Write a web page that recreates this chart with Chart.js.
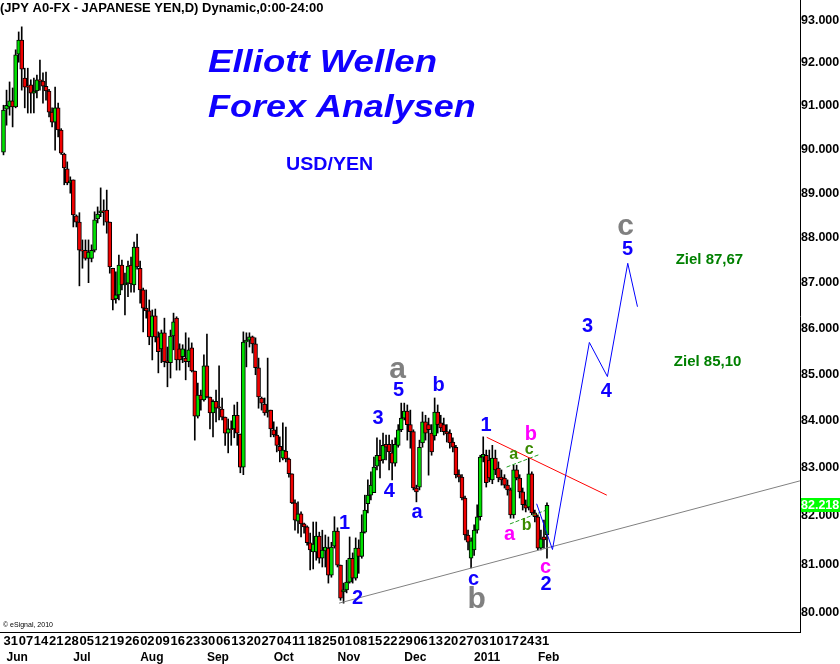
<!DOCTYPE html>
<html>
<head>
<meta charset="utf-8">
<script src="https://cdn.jsdelivr.net/npm/chart.js@4/dist/chart.umd.min.js"></script>
<style>
  html, body { margin: 0; padding: 0; background: #fff; }
  canvas { display: block; }
</style>
</head>
<body>
<canvas id="chart" width="840" height="664"></canvas>
<script>
// USD/JPY daily candles, one entry per weekday from 31 May 2010 to 4 Feb 2011
const opens = [
  89.93, 90.92, 90.97, 91.11, 90.97, 92.20, 92.53, 91.64, 91.45, 91.48,
  91.29, 91.34, 91.60, 91.57, 91.45, 91.34, 90.85, 90.62, 90.95, 90.44,
  89.89, 89.55, 89.23, 89.30, 88.49, 88.35, 87.72, 87.72, 87.54, 87.54,
  87.72, 88.42, 88.56, 88.60, 88.62, 88.35, 87.32, 86.64, 86.73, 87.39,
  86.95, 86.99, 87.39, 86.95, 87.79, 87.32, 86.84, 86.44, 86.38, 85.81,
  86.27, 85.81, 85.55, 85.90, 85.29, 85.25, 85.83, 86.22, 85.55, 85.38,
  85.35, 85.27, 85.57, 85.07, 84.10, 84.55, 84.45, 85.18, 84.51, 84.17,
  84.42, 84.30, 84.25, 84.08, 83.74, 83.83, 83.83, 84.12, 83.72, 83.02,
  85.70, 85.74, 85.81, 85.66, 85.14, 84.49, 84.36, 84.19, 84.23, 83.81,
  83.70, 83.46, 83.21, 83.36, 83.19, 82.88, 82.27, 81.89, 82.04, 81.83,
  81.77, 81.44, 81.25, 81.25, 81.58, 81.12, 81.27, 81.33, 80.77, 81.37,
  81.68, 80.98, 80.43, 80.47, 80.63, 81.12, 80.71, 81.33, 81.16, 81.66,
  82.25, 82.43, 82.48, 83.04, 83.27, 83.17, 83.50, 83.50, 83.32, 83.10,
  83.48, 83.81, 84.06, 84.21, 83.92, 83.77, 82.58, 82.60, 83.53, 83.98,
  83.92, 83.74, 83.68, 84.19, 83.96, 83.92, 83.77, 83.74, 83.55, 83.44,
  82.86, 82.81, 82.37, 81.60, 81.12, 81.29, 81.70, 81.98, 83.23, 83.27,
  83.17, 82.75, 83.21, 83.00, 82.81, 82.79, 82.64, 82.54, 82.02, 82.96,
  82.79, 82.50, 82.23, 82.18, 82.88, 82.06, 81.98, 81.33, 81.56, 81.60
];
const highs = [
  91.01, 91.36, 91.55, 91.41, 92.30, 92.72, 92.84, 91.87, 91.87, 91.60,
  91.64, 91.71, 92.06, 91.76, 91.78, 91.38, 90.95, 91.43, 91.06, 90.47,
  89.91, 89.71, 89.37, 89.30, 88.51, 88.56, 87.95, 87.95, 87.95, 87.84,
  88.58, 88.69, 89.12, 88.85, 89.07, 88.35, 87.32, 87.24, 87.61, 87.50,
  87.21, 87.48, 87.57, 87.90, 88.08, 87.48, 86.88, 86.84, 86.62, 86.40,
  86.42, 85.92, 85.96, 86.22, 85.59, 85.96, 86.33, 86.25, 85.66, 85.64,
  85.90, 85.79, 85.68, 85.07, 84.81, 84.66, 85.42, 85.87, 84.51, 84.45,
  84.66, 85.18, 84.49, 84.08, 84.04, 84.00, 84.34, 84.40, 83.72, 85.92,
  85.90, 85.90, 85.83, 85.79, 85.35, 84.51, 84.49, 85.35, 84.23, 83.98,
  83.87, 83.66, 83.96, 83.87, 83.21, 82.88, 82.33, 82.29, 82.08, 81.85,
  81.79, 81.64, 81.87, 81.87, 81.66, 81.70, 81.60, 81.56, 81.45, 81.98,
  81.75, 80.98, 80.61, 81.08, 81.56, 81.23, 81.54, 81.50, 82.02, 82.43,
  82.75, 82.92, 83.23, 83.64, 83.59, 83.74, 83.70, 83.70, 83.59, 83.64,
  83.92, 84.38, 84.38, 84.34, 84.23, 83.81, 82.64, 83.59, 84.19, 84.12,
  84.06, 83.92, 84.49, 84.34, 84.12, 84.06, 83.92, 83.81, 83.64, 83.48,
  82.96, 82.86, 82.41, 81.70, 81.54, 81.81, 82.23, 83.27, 83.66, 83.38,
  83.38, 83.48, 83.38, 83.13, 82.96, 82.86, 82.75, 82.58, 83.06, 83.06,
  82.86, 82.58, 82.33, 83.21, 82.92, 82.12, 82.02, 81.70, 81.91, 82.27
];
const lows = [
  89.87, 90.55, 90.78, 90.51, 90.95, 92.01, 91.36, 90.95, 90.83, 90.83,
  90.83, 91.18, 91.36, 91.06, 91.13, 90.74, 90.51, 89.98, 90.28, 89.88,
  89.19, 89.19, 89.00, 88.24, 88.24, 86.93, 87.32, 87.50, 87.00, 87.46,
  87.68, 88.33, 88.47, 88.28, 88.10, 87.21, 86.40, 86.55, 86.62, 86.84,
  86.29, 86.69, 86.79, 86.79, 87.30, 86.55, 85.92, 86.22, 85.64, 85.31,
  85.70, 85.03, 85.25, 85.16, 84.73, 84.92, 85.53, 85.09, 85.09, 85.25,
  84.88, 85.16, 85.05, 83.59, 84.06, 84.23, 84.42, 84.49, 83.83, 83.66,
  83.98, 84.02, 84.02, 83.48, 83.32, 83.48, 83.64, 83.48, 82.90, 82.86,
  85.16, 85.59, 85.46, 84.99, 84.27, 84.23, 84.12, 84.08, 83.66, 83.66,
  83.34, 83.13, 83.17, 83.13, 82.81, 82.25, 81.70, 81.64, 81.56, 81.64,
  81.39, 80.88, 80.90, 81.08, 81.02, 80.94, 80.94, 80.61, 80.73, 81.33,
  80.94, 80.26, 80.20, 80.41, 80.61, 80.61, 80.67, 80.81, 81.12, 81.64,
  82.06, 82.33, 82.48, 82.96, 82.79, 83.10, 83.17, 82.96, 82.75, 83.04,
  83.44, 83.77, 84.02, 83.59, 83.42, 82.54, 82.29, 82.54, 83.44, 83.59,
  82.85, 83.27, 83.59, 83.74, 83.77, 83.70, 83.55, 83.42, 83.34, 82.79,
  82.71, 82.33, 81.50, 81.29, 80.92, 81.18, 81.64, 81.91, 83.13, 82.60,
  82.71, 82.67, 82.86, 82.71, 82.64, 82.58, 82.43, 81.95, 81.95, 82.75,
  82.37, 82.12, 82.08, 82.12, 82.02, 81.87, 81.29, 81.29, 81.33, 81.12
];
const closes = [
  90.90, 91.01, 91.11, 90.97, 92.18, 92.53, 91.85, 91.43, 91.43, 91.29,
  91.34, 91.60, 91.57, 91.45, 91.34, 90.85, 90.62, 90.95, 90.44, 89.91,
  89.57, 89.23, 89.28, 88.51, 88.35, 87.72, 87.70, 87.54, 87.68, 87.72,
  88.40, 88.53, 88.60, 88.58, 88.35, 87.35, 86.62, 86.73, 87.39, 86.95,
  86.99, 87.37, 86.97, 87.79, 87.35, 86.84, 86.44, 86.38, 85.81, 86.27,
  85.81, 85.49, 85.90, 85.27, 85.25, 85.83, 86.14, 85.31, 85.31, 85.55,
  85.27, 85.53, 85.07, 84.10, 84.55, 84.45, 85.18, 84.51, 84.17, 84.42,
  84.27, 84.27, 84.08, 83.74, 83.83, 83.81, 84.12, 83.74, 83.02, 85.70,
  85.74, 85.81, 85.66, 85.14, 84.51, 84.38, 84.17, 84.23, 83.83, 83.70,
  83.48, 83.36, 83.38, 83.19, 82.88, 82.27, 81.91, 82.04, 81.83, 81.77,
  81.44, 81.29, 81.41, 81.58, 81.12, 81.29, 81.35, 80.77, 81.35, 81.68,
  80.98, 80.30, 80.47, 80.63, 81.12, 80.71, 81.33, 81.16, 81.66, 82.12,
  82.43, 82.64, 83.02, 83.27, 83.15, 83.48, 83.44, 83.34, 83.10, 83.50,
  83.81, 84.06, 84.21, 83.92, 83.77, 82.58, 82.50, 83.44, 83.98, 83.74,
  83.81, 83.34, 84.19, 83.92, 83.85, 83.77, 83.72, 83.53, 83.44, 82.86,
  82.81, 82.37, 81.60, 81.45, 81.48, 81.70, 81.98, 83.23, 83.29, 82.69,
  82.79, 83.21, 82.96, 82.79, 82.75, 82.64, 82.54, 82.02, 82.96, 82.79,
  82.50, 82.23, 82.16, 82.88, 82.06, 81.98, 81.33, 81.52, 81.50, 82.22
];

const monthNames = ["Jun", "Jul", "Aug", "Sep", "Oct", "Nov", "Dec", "2011", "Feb"];
const priceTicks = [80, 81, 82, 83, 84, 85, 86, 87, 88, 89, 90, 91, 92, 93];
const lastPrice = 82.218;

// wave count drawn on top: [day index, price]
const projection = [[175.6, 82.25], [180.8, 81.30], [192.95, 85.69], [198.9, 84.95], [205.6, 87.43], [208.8, 86.47]];
const supportLine = [[110.5, 80.20], [262.3, 82.73]];
const resistanceLine = [[159.15, 83.65], [198.7, 82.43]];
const triangleTop = [[165.7, 83.02], [176.7, 83.29]];
const triangleBottom = [[166.8, 81.83], [178.4, 82.11]];

const waveLabels = [
  ["1", 112.3, 81.83, "blue"],
  ["2", 116.6, 80.29, "blue"],
  ["3", 123.4, 84.05, "blue"],
  ["4", 127.1, 82.51, "blue"],
  ["5", 130.1, 84.64, "blue"],
  ["a", 129.8, 85.09, "gray"],
  ["a", 136.2, 82.07, "blue"],
  ["b", 143.3, 84.75, "blue"],
  ["c", 154.8, 80.69, "blue"],
  ["b", 155.8, 80.28, "gray"],
  ["1", 158.9, 83.91, "blue"],
  ["b", 173.7, 83.71, "magenta"],
  ["a", 168.0, 83.28, "green"],
  ["c", 173.1, 83.39, "green"],
  ["a", 166.7, 81.62, "magenta"],
  ["b", 172.3, 81.79, "green"],
  ["c", 178.5, 80.92, "magenta"],
  ["2", 178.7, 80.58, "blue"],
  ["3", 192.4, 86.04, "blue"],
  ["4", 198.5, 84.63, "blue"],
  ["c", 204.9, 88.25, "gray"],
  ["5", 205.5, 87.73, "blue"]
];
const targets = [["Ziel 87,67", 232.5, 87.50], ["Ziel 85,10", 231.9, 85.27]];

// trading days (every weekday)
const dates = [];
for (let d = new Date(2010, 4, 31); dates.length < closes.length; d.setDate(d.getDate() + 1)) {
  if (d.getDay() !== 0 && d.getDay() !== 6) dates.push(new Date(d));
}
const weekStarts = dates.map((d, i) => i).filter(i => dates[i].getDay() === 1);
const monthStarts = dates.map((d, i) => i).filter(i => i > 0 && dates[i].getMonth() !== dates[i - 1].getMonth());

const FONT = '"Liberation Sans", Arial, sans-serif';
const GREEN = "#00e000";
const RED = "#f00000";
const labelStyles = {
  blue:    { color: "#1000ff", font: "bold 20px " + FONT },
  gray:    { color: "#808080", font: "bold 30px " + FONT },
  magenta: { color: "#ff00ff", font: "bold 20px " + FONT },
  green:   { color: "#3a8a00", font: "bold 16px " + FONT }
};

const toPoints = arr => arr.map(p => ({ x: p[0], y: p[1] }));
const lineSet = (data, color, dash) => ({
  type: "line",
  data: toPoints(data),
  borderColor: color,
  borderWidth: 1,
  borderDash: dash || [],
  pointRadius: 0,
  order: 0
});

const overlay = {
  id: "overlay",
  afterDraw(chart) {
    const { ctx, scales } = chart;
    const px = i => scales.x.getPixelForValue(i);
    const py = v => scales.y.getPixelForValue(v);
    ctx.save();

    ctx.fillStyle = "#000";
    ctx.textAlign = "left";
    ctx.textBaseline = "alphabetic";
    ctx.font = "bold 13px " + FONT;
    ctx.fillText("(JPY A0-FX - JAPANESE YEN,D) Dynamic,0:00-24:00", 0, 12);
    ctx.font = "7px " + FONT;
    ctx.fillText("\u00a9 eSignal, 2010", 3, 627);

    const wide = (text, x, y, font, sx) => {
      ctx.save();
      ctx.translate(x, y);
      ctx.scale(sx, 1);
      ctx.font = font;
      ctx.fillText(text, 0, 0);
      ctx.restore();
    };
    ctx.fillStyle = "#1000ff";
    wide("Elliott Wellen", 208, 72, "italic bold 31px " + FONT, 1.18);
    wide("Forex Analysen", 208, 117, "italic bold 31px " + FONT, 1.16);
    wide("USD/YEN", 286, 170, "bold 18px " + FONT, 1.09);

    ctx.textAlign = "center";
    ctx.textBaseline = "middle";
    waveLabels.forEach(([t, i, v, kind]) => {
      ctx.font = labelStyles[kind].font;
      ctx.fillStyle = labelStyles[kind].color;
      ctx.fillText(t, px(i), py(v));
    });
    ctx.font = "bold 15px " + FONT;
    ctx.fillStyle = "#008000";
    targets.forEach(([t, i, v]) => ctx.fillText(t, px(i), py(v)));

    // last price tag on the axis
    const y = py(lastPrice);
    ctx.fillStyle = "#00ff00";
    ctx.fillRect(scales.y.left + 1, Math.round(y) - 7, 40, 14);
    ctx.fillStyle = "#fff";
    ctx.textAlign = "left";
    ctx.font = "bold 12.5px " + FONT;
    ctx.fillText(lastPrice.toFixed(3), scales.y.left + 1, y);
    ctx.restore();
  }
};

const dayFont = { family: FONT, size: 13, weight: "bold" };
const monthFont = { family: FONT, size: 12, weight: "bold" };
const priceFont = { family: FONT, size: 12.5, weight: "bold" };
const xRange = { min: -1.153, max: 262.33 };

new Chart(document.getElementById("chart"), {
  type: "bar",
  data: {
    datasets: [
      lineSet(projection, "#0000ff"),
      lineSet(supportLine, "#808080"),
      lineSet(resistanceLine, "#ff0000"),
      lineSet(triangleTop, "#22a022", [4, 2]),
      lineSet(triangleBottom, "#22a022", [4, 2]),
      {
        label: "Body",
        data: opens.map((o, i) => ({ x: i, y: [o, closes[i]] })),
        backgroundColor: closes.map((c, i) => (c >= opens[i] ? GREEN : RED)),
        borderColor: "#000",
        borderWidth: 1,
        borderSkipped: false,
        barThickness: 4,
        minBarLength: 1,
        grouped: false,
        order: 1
      },
      {
        label: "Range",
        data: lows.map((l, i) => ({ x: i, y: [l, highs[i]] })),
        backgroundColor: "#000",
        barThickness: 1,
        grouped: false,
        order: 2
      }
    ]
  },
  options: {
    responsive: false,
    animation: false,
    devicePixelRatio: 1,
    layout: { padding: 0 },
    plugins: { legend: { display: false }, tooltip: { enabled: false } },
    scales: {
      x: {
        type: "linear",
        position: "bottom",
        weight: 0,
        min: xRange.min,
        max: xRange.max,
        offset: false,
        bounds: "data",
        grid: { display: false, drawTicks: false },
        border: { display: true, color: "#000", width: 1 },
        afterBuildTicks: s => { s.ticks = weekStarts.map(v => ({ value: v })); },
        afterFit: s => { s.height = 16; s.paddingLeft = 0; s.paddingRight = 0; },
        ticks: {
          autoSkip: false,
          maxRotation: 0,
          align: "start",
          padding: 2,
          color: "#000",
          font: dayFont,
          callback: v => String(dates[v].getDate()).padStart(2, "0")
        }
      },
      xMonth: {
        type: "linear",
        axis: "x",
        position: "bottom",
        weight: 1,
        min: xRange.min,
        max: xRange.max,
        offset: false,
        bounds: "data",
        grid: { display: false, drawTicks: false },
        border: { display: false },
        afterBuildTicks: s => { s.ticks = monthStarts.map(v => ({ value: v })); },
        afterFit: s => { s.height = 16; s.paddingLeft = 0; s.paddingRight = 0; },
        ticks: {
          autoSkip: false,
          maxRotation: 0,
          align: "start",
          padding: 2,
          color: "#000",
          font: monthFont,
          callback: (v, idx) => monthNames[idx]
        }
      },
      y: {
        type: "logarithmic",
        position: "right",
        min: 79.615,
        max: 93.475,
        bounds: "data",
        grid: { display: false, drawTicks: false },
        border: { display: true, color: "#000", width: 1 },
        afterBuildTicks: s => { s.ticks = priceTicks.map(v => ({ value: v })); },
        afterFit: s => { s.width = 40; s.paddingTop = 0; s.paddingBottom = 0; },
        ticks: {
          padding: 1,
          color: "#000",
          font: priceFont,
          callback: v => Number(v).toFixed(3)
        }
      }
    }
  },
  plugins: [overlay]
});
</script>
</body>
</html>
